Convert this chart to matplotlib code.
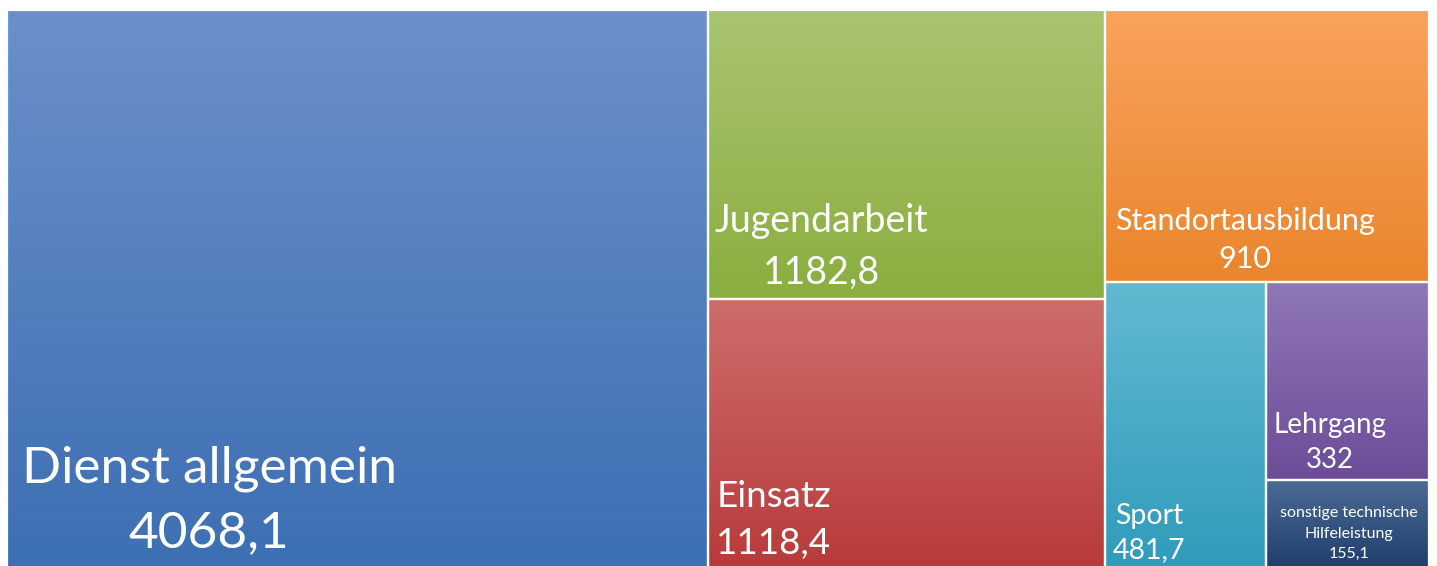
import numpy as np
import matplotlib
matplotlib.use("Agg")
import matplotlib.pyplot as plt
from matplotlib.patches import Rectangle
from matplotlib.colors import to_rgb

categories = ["Dienst allgemein", "Jugendarbeit", "Einsatz", "Standortausbildung",
              "Sport", "Lehrgang", "sonstige technische\nHilfeleistung"]
values = [4068.1, 1182.8, 1118.4, 910, 481.7, 332, 155.1]
value_labels = ["4068,1", "1182,8", "1118,4", "910", "481,7", "332", "155,1"]

top_colors = ["#6b8fca", "#a9c470", "#cd6d6b", "#f9a35c", "#62b9d0", "#8f78b6", "#4b6b96"]
bot_colors = ["#3c6fb3", "#8aae3f", "#b83a3a", "#ea852c", "#2f9bba", "#6c4c98", "#1f3c6a"]

font_sizes = [37, 27, 26.5, 22, 20.5, 20, 11.5]
# label anchor (fraction of cell width, fraction of cell height, ha)
anchors = [(0.021, 0.873, "left"), (0.015, 0.82, "left"), (0.02, 0.81, "left"),
           (0.03, 0.845, "left"), (0.05, 0.865, "left"), (0.043, 0.81, "left"),
           (0.51, 0.585, "center")]
linespacings = [1.49, 1.56, 1.53, 1.40, 1.38, 1.41, 1.6]

plt.rcParams['font.family'] = ['Lato', 'DejaVu Sans']

W, H = 1437, 566
fig = plt.figure(figsize=(W / 100, H / 100), dpi=100)
fig.patch.set_facecolor("white")
ax_left, ax_top, ax_w, ax_h = 7, 10, 1422, 562
ax = fig.add_axes([ax_left / W, (H - ax_top - ax_h) / H, ax_w / W, ax_h / H])
ax.set_xlim(0, 1)
ax.set_ylim(1, 0)
ax.axis("off")

total = sum(values)
v = values
rects = []
# column 1
w0 = v[0] / total
rects.append((0, 0, w0, 1))
# column 2
w1 = (v[1] + v[2]) / total
h1 = v[1] / (v[1] + v[2])
rects.append((w0, 0, w1, h1))
rects.append((w0, h1, w1, 1 - h1))
# column 3
x3 = w0 + w1
w3 = 1 - x3
rest = v[3] + v[4] + v[5] + v[6]
h3 = v[3] / rest
rects.append((x3, 0, w3, h3))
ws = w3 * v[4] / (v[4] + v[5] + v[6])
rects.append((x3, h3, ws, 1 - h3))
hl = (1 - h3) * v[5] / (v[5] + v[6])
rects.append((x3 + ws, h3, w3 - ws, hl))
rects.append((x3 + ws, h3 + hl, w3 - ws, 1 - h3 - hl))

for i, (x, y, w, h) in enumerate(rects):
    c0 = np.array(to_rgb(top_colors[i]))
    c1 = np.array(to_rgb(bot_colors[i]))
    t = np.linspace(0, 1, 256)[:, None]
    grad = (c0[None, :] * (1 - t) + c1[None, :] * t)[:, None, :]
    ax.imshow(grad, extent=(x, x + w, y + h, y), aspect="auto",
              interpolation="bilinear", zorder=1)
    ax.add_patch(Rectangle((x, y), w, h, facecolor="none", edgecolor="white",
                           linewidth=1.6, zorder=2))
    fx, fy, ha = anchors[i]
    ax.text(x + fx * w, y + fy * h, categories[i] + "\n" + value_labels[i],
            ha=ha, va="center", multialignment="center", color="white",
            fontsize=font_sizes[i], linespacing=linespacings[i], zorder=3)

ax.set_xlim(0, 1)
ax.set_ylim(1, 0)
fig.savefig("out.png", dpi=100, facecolor="white")
